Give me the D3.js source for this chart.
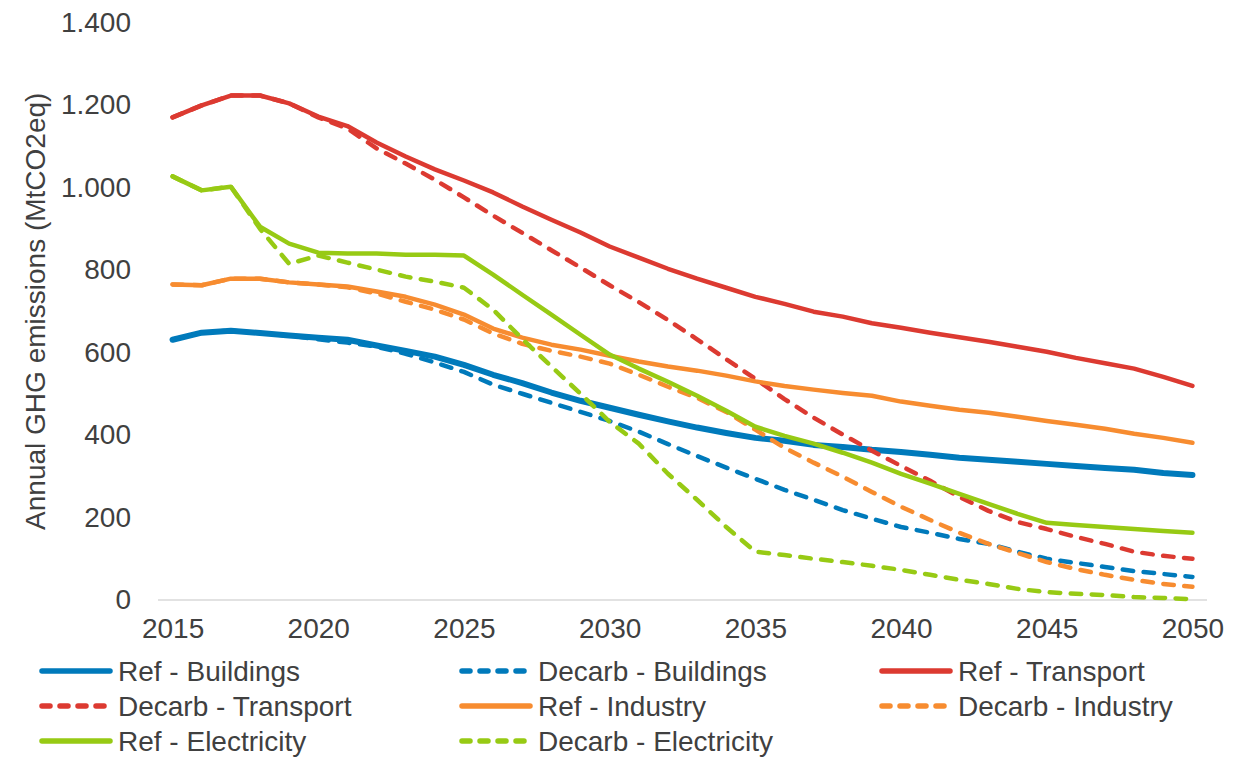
<!DOCTYPE html>
<html>
<head>
<meta charset="utf-8">
<script src="https://cdn.jsdelivr.net/npm/d3@7"></script>
<style>
  body { margin: 0; background: #fff; }
  svg text { font-family: "Liberation Sans", Arial, sans-serif; fill: #404040; }
</style>
</head>
<body>
<svg id="chart" width="1252" height="757"></svg>
<script>
const years = d3.range(2015, 2051);
const tickYears = [2015, 2020, 2025, 2030, 2035, 2040, 2045, 2050];
const yTicks = [0, 200, 400, 600, 800, 1000, 1200, 1400];

const refBuildings = [631, 648, 653, 647, 641, 636, 631, 617, 604, 590, 570, 546, 526, 503, 483, 466, 449, 433, 418, 405, 393,
  386, 376, 371, 364, 359, 352, 345, 340, 335, 330, 325, 320, 316, 308, 303];
const decarbBuildings = [631, 648, 653, 647, 641, 632, 624, 614, 597, 576, 553, 522, 500, 478, 456, 434, 408, 378, 349, 321, 294,
  267, 243, 218, 197, 177, 163, 148, 136, 117, 100, 90, 80, 70, 63, 56];
const refTransport = [1170, 1199, 1223, 1223, 1204, 1172, 1149, 1109, 1075, 1044, 1017, 988, 954, 922, 891, 857, 830, 803, 779, 757, 735,
  718, 699, 687, 671, 660, 648, 637, 626, 614, 602, 587, 574, 561, 541, 519];
const decarbTransport = [1170, 1199, 1223, 1223, 1204, 1170, 1143, 1095, 1058, 1019, 976, 932, 890, 848, 806, 763, 722, 679, 632, 584, 536,
  487, 442, 401, 362, 325, 289, 250, 216, 189, 172, 153, 136, 117, 107, 100];
const refIndustry = [765, 763, 779, 779, 770, 765, 760, 748, 735, 716, 692, 658, 636, 619, 607, 592, 578, 566, 556, 544, 530,
  519, 510, 502, 495, 481, 471, 461, 454, 444, 434, 425, 415, 403, 393, 381];
const decarbIndustry = [765, 763, 779, 779, 770, 765, 758, 743, 723, 704, 680, 646, 621, 604, 590, 573, 546, 517, 490, 456, 413,
  369, 333, 299, 262, 226, 194, 163, 136, 114, 92, 75, 61, 49, 39, 32];
const refElectricity = [1027, 993, 1002, 905, 864, 842, 840, 840, 837, 837, 835, 789, 740, 692, 643, 595, 561, 529, 495, 459, 420,
  398, 379, 357, 333, 306, 282, 257, 233, 209, 187, 182, 177, 172, 167, 163];
const decarbElectricity = [1027, 993, 1002, 900, 815, 835, 818, 801, 784, 772, 757, 704, 633, 566, 500, 432, 379, 306, 243, 177, 117,
  109, 100, 92, 83, 73, 61, 49, 39, 27, 19, 15, 12, 7, 5, 2];

const blue = "#007ABB", red = "#DC3A31", orange = "#F78C30", green = "#97CA14";

const series = [
  { name: "Ref - Buildings", values: refBuildings, color: blue, dashed: false, width: 6 },
  { name: "Decarb - Buildings", values: decarbBuildings, color: blue, dashed: true, width: 4.5 },
  { name: "Ref - Transport", values: refTransport, color: red, dashed: false, width: 4.5 },
  { name: "Decarb - Transport", values: decarbTransport, color: red, dashed: true, width: 4.5 },
  { name: "Ref - Industry", values: refIndustry, color: orange, dashed: false, width: 4.5 },
  { name: "Decarb - Industry", values: decarbIndustry, color: orange, dashed: true, width: 4.5 },
  { name: "Ref - Electricity", values: refElectricity, color: green, dashed: false, width: 4.5 },
  { name: "Decarb - Electricity", values: decarbElectricity, color: green, dashed: true, width: 4.5 },
];

const svg = d3.select("#chart");
const plotLeft = 158, plotRight = 1207, plotTop = 22.5, plotBottom = 600;
const fontSize = 28;

const x = d3.scalePoint(years, [plotLeft, plotRight]).padding(0.5);
const y = d3.scaleLinear([0, 1400], [plotBottom, plotTop]);

const fmt = d3.formatLocale({ decimal: ",", thousands: ".", grouping: [3], currency: ["", "€"] }).format(",");

// y axis labels
const yAxis = svg.append("g")
  .attr("transform", `translate(${plotLeft - 27},0)`)
  .call(d3.axisLeft(y).tickValues(yTicks).tickFormat(fmt).tickSize(0).tickPadding(0));
yAxis.select(".domain").remove();
yAxis.selectAll("text").attr("font-size", fontSize).attr("fill", "#404040")
  .attr("font-family", '"Liberation Sans", Arial, sans-serif');

// baseline
svg.append("line")
  .attr("x1", plotLeft).attr("x2", plotRight)
  .attr("y1", y(0)).attr("y2", y(0))
  .attr("stroke", "#D9D9D9").attr("stroke-width", 1.5);

// x axis labels
const xAxis = svg.append("g")
  .attr("transform", `translate(0,${plotBottom + 18})`)
  .call(d3.axisBottom(x).tickValues(tickYears).tickSize(0).tickPadding(0));
xAxis.select(".domain").remove();
xAxis.selectAll("text").attr("font-size", fontSize).attr("fill", "#404040")
  .attr("font-family", '"Liberation Sans", Arial, sans-serif');

// y axis title
svg.append("text")
  .attr("transform", `translate(45,${(plotTop + plotBottom) / 2}) rotate(-90)`)
  .attr("text-anchor", "middle")
  .attr("font-size", fontSize)
  .text("Annual GHG emissions (MtCO2eq)");

const line = d3.line()
  .x((d, i) => x(years[i]))
  .y(d => y(d));

svg.append("g")
  .selectAll("path")
  .data(series)
  .join("path")
  .attr("d", d => line(d.values))
  .attr("fill", "none")
  .attr("stroke", d => d.color)
  .attr("stroke-width", d => d.width)
  .attr("stroke-linecap", "round")
  .attr("stroke-linejoin", "round")
  .attr("stroke-dasharray", d => d.dashed ? "10.5,10.5" : null);

// legend, 3 columns
const legend = svg.append("g");
const items = legend.selectAll("g")
  .data(series)
  .join("g")
  .attr("transform", (d, i) => `translate(${42 + (i % 3) * 420},${671 + Math.floor(i / 3) * 35})`);

items.append("line")
  .attr("x1", 0).attr("x2", 68)
  .attr("stroke", d => d.color)
  .attr("stroke-width", 5.5)
  .attr("stroke-linecap", "round")
  .attr("stroke-dasharray", d => d.dashed ? "8,10" : null);

items.append("text")
  .attr("x", 76)
  .attr("dy", "0.34em")
  .attr("font-size", fontSize)
  .text(d => d.name);
</script>
</body>
</html>
